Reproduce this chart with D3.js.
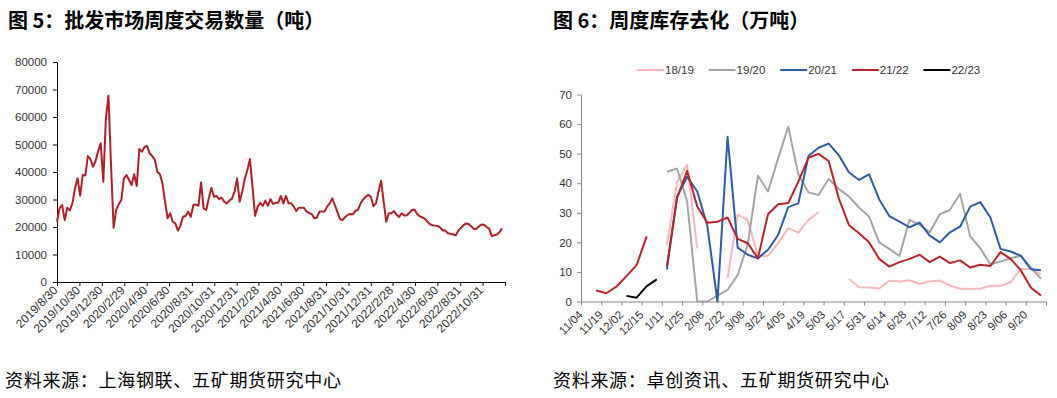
<!DOCTYPE html>
<html>
<head>
<meta charset="utf-8">
<script src="https://cdn.jsdelivr.net/npm/d3@7/dist/d3.min.js"></script>
<style>
    html, body {
        margin: 0;
        background: #fff;
    }
    svg text {
        font-family: "Liberation Sans", Arial, sans-serif;
        fill: #333;
    }
    .title {
        font-family: "Noto Sans CJK SC", sans-serif !important;
        font-weight: bold;
        font-size: 20px;
        fill: #000 !important;
    }
    .source {
        font-family: "Noto Sans CJK SC", sans-serif !important;
        font-size: 18px;
        letter-spacing: 0.7px;
        fill: #000 !important;
    }
</style>
</head>
<body>
<script>
    // weekly wholesale volume (t), first week 2019/8/30
    const volStart = new Date(2019, 7, 30);
    const volume = [
        21900, 26800, 28000, 22500, 27000, 26100, 28600, 34100, 37700, 31400,
        38900, 38700, 45800, 44700, 41900, 44000, 47600, 50400, 36500, 59500,
        67700, 42700, 19700, 26200, 28300, 29800, 37700, 38900, 37100, 35300,
        39200, 34900, 48400, 47400, 49100, 49500, 46800, 45800, 44500, 40100,
        39200, 35800, 29100, 23200, 25000, 21900, 21300, 18700, 20500, 23700,
        24000, 25600, 23700, 28000, 28200, 27700, 36200, 26800, 26200, 30400,
        34300, 31000, 31300, 30100, 30700, 29200, 28600, 29600, 30300, 32800,
        37700, 29200, 32800, 37500, 40700, 44700, 34600, 24000, 27400, 28800,
        27700, 29600, 27700, 30100, 28400, 28800, 28800, 31300, 28600, 31300,
        28600, 28600, 27500, 25800, 27000, 27000, 27000, 25600, 25100, 24700,
        23200, 23400, 25600, 25600, 25600, 27400, 28600, 30400, 28000, 25500,
        22900, 22500, 23600, 24400, 24700, 24600, 25900, 26200, 28600, 30000,
        31000, 31700, 31000, 27600, 28600, 33000, 36800, 29000, 21900, 25000,
        25000, 25800, 24400, 23700, 25000, 24200, 24300, 25200, 26200, 26400,
        24700, 23900, 23500, 23000, 21900, 21000, 20600, 20500, 20400, 19800,
        18700, 18700, 17700, 17500, 17300, 17000, 18700, 19700, 20700, 21300,
        21100, 20300, 19300, 19400, 20200, 20900, 20800, 20000, 19400, 16700,
        17000, 17300, 18100, 19500
    ];
    const volTickLabels = [
        '2019/8/30', '2019/10/30', '2019/12/30', '2020/2/29', '2020/4/30',
        '2020/6/30', '2020/8/31', '2020/10/31', '2020/12/31', '2021/2/28',
        '2021/4/30', '2021/6/30', '2021/8/31', '2021/10/31', '2021/12/31',
        '2022/2/28', '2022/4/30', '2022/6/30', '2022/8/31', '2022/10/31'
    ];
    const volAxisEnd = '2022/12/31';

    // weekly stock change (10k t), 46 weeks per season
    const stockLabels = [
        '11/04', '11/19', '12/02', '12/15', '1/11', '1/25', '2/08', '2/22',
        '3/08', '3/22', '4/05', '4/19', '5/03', '5/17', '5/31', '6/14',
        '6/28', '7/12', '7/26', '8/09', '8/23', '9/06', '9/20'
    ];
    const seasonNames = ['18/19', '19/20', '20/21', '21/22', '22/23'];
    const seasonColors = ['#f6b9bd', '#a5a5a5', '#2f5ca8', '#c0222c', '#000000'];
    const s1819 = [
        null, null, null, null, null, null, null, null, 19.2, 40.5,
        46.2, 18.0, null, null, 7.9, 29.3, 27.6, 15.2, 15.5, 19.7,
        24.8, 23.3, 27.6, 30.2, null, null, 7.7, 4.8, 4.7, 4.4,
        7.0, 6.8, 7.2, 5.9, 6.8, 7.1, 5.4, 4.3, 4.3, 4.3,
        5.3, 5.3, 6.5, 11.0, 11.0, 9.2
    ];
    const s1920 = [
        null, null, null, null, null, null, null, null, 43.9, 45.0,
        33.8, 0, 0, 2.0, 3.9, 9.0, 19.5, 42.6, 37.2, 48.4,
        59.1, 43.0, 36.9, 36.0, 41.4, 38.1, 35.5, 31.8, 28.7, 20.0,
        17.8, 15.4, 27.6, 25.9, 23.4, 29.5, 31.0, 36.4, 22.0, 18.0,
        12.6, 13.5, 14.6, 15.5, 11.5, 7.7
    ];
    const s2021 = [
        null, null, null, null, null, null, null, null, 10.9, 35.5,
        42.2, 37.2, 25.5, 0, 55.7, 18.2, 15.8, 14.6, 17.5, 22.5,
        31.9, 33.2, 49.2, 52.0, 53.4, 49.5, 43.7, 41.1, 43.0, 34.5,
        28.9, 27.0, 25.1, 26.7, 22.3, 20.0, 23.4, 25.3, 32.1, 33.6,
        28.4, 17.8, 16.9, 15.5, 10.9, 10.6
    ];
    const s2122 = [
        null, 3.7, 2.8, 5.0, 8.6, 12.3, 22.0, null, 12.0, 34.9,
        44.2, 32.1, 26.6, 27.0, 28.4, 21.2, 19.7, 14.6, 29.5, 32.9,
        33.3, 40.5, 48.6, 49.9, 47.5, 34.9, 25.9, 23.1, 20.0, 14.4,
        11.8, 13.3, 14.4, 15.8, 13.3, 15.2, 13.0, 13.9, 11.5, 12.4,
        12.0, 16.7, 14.4, 10.6, 4.7, 2.0
    ];
    const s2223 = [
        null, null, null, null, 1.9, 1.3, 5.2, 7.5
    ];
    const seasons = [s1819, s1920, s2021, s2122, s2223];

    const parseDate = d3.timeParse('%Y/%m/%d');

    const svg = d3.select('body').append('svg')
        .attr('width', 1057)
        .attr('height', 398);

    // ---------- left chart ----------
    svg.append('text').attr('class', 'title')
        .attr('x', 8).attr('y', 28)
        .text('图 5：批发市场周度交易数量（吨）');

    const xVol = d3.scaleTime()
        .domain([volStart, parseDate(volAxisEnd)])
        .range([57, 505]);
    const yVol = d3.scaleLinear()
        .domain([0, 80000])
        .range([282, 62]);

    const volTicks = volTickLabels.concat([volAxisEnd]).map(parseDate);

    const gxVol = svg.append('g')
        .attr('transform', 'translate(0,282)')
        .call(d3.axisBottom(xVol)
            .tickValues(volTicks)
            .tickFormat((d, i) => volTickLabels[i] || '')
            .tickSize(4)
            .tickSizeOuter(0));
    gxVol.selectAll('text')
        .style('font-size', '12px')
        .attr('text-anchor', 'end')
        .attr('dy', null)
        .attr('y', 0)
        .attr('transform', 'translate(1,9) rotate(-45)');

    svg.append('g')
        .attr('transform', 'translate(57,0)')
        .call(d3.axisLeft(yVol)
            .tickValues(d3.range(0, 80001, 10000))
            .tickFormat(d3.format('d'))
            .tickSize(4)
            .tickSizeOuter(0))
        .selectAll('text')
        .style('font-size', '11.5px')
        .attr('x', -10);

    svg.selectAll('.domain, .tick line').attr('stroke', '#000');

    const volLine = d3.line()
        .x((d, i) => xVol(d3.timeDay.offset(volStart, i * 7)))
        .y(d => yVol(d));

    svg.append('path')
        .datum(volume)
        .attr('fill', 'none')
        .attr('stroke', '#b01f2a')
        .attr('stroke-width', 2)
        .attr('stroke-linejoin', 'round')
        .attr('d', volLine);

    svg.append('text').attr('class', 'source')
        .attr('x', 5).attr('y', 387)
        .text('资料来源：上海钢联、五矿期货研究中心');

    // ---------- right chart ----------
    svg.append('text').attr('class', 'title')
        .attr('x', 553).attr('y', 28)
        .text('图 6：周度库存去化（万吨）');

    const nWeeks = s1819.length;
    const xs = d3.scaleLinear().domain([0, nWeeks]).range([581, 1046]);
    const ys = d3.scaleLinear().domain([0, 70]).range([301.5, 94.5]);

    const gxs = svg.append('g')
        .attr('class', 'raxis')
        .attr('transform', 'translate(0,301.5)')
        .call(d3.axisBottom(xs)
            .tickValues(d3.range(0, nWeeks + 1, 2))
            .tickFormat(d => stockLabels[d / 2] || '')
            .tickSize(4)
            .tickSizeOuter(0));
    gxs.selectAll('text')
        .style('font-size', '11.5px')
        .attr('text-anchor', 'end')
        .attr('dy', null)
        .attr('y', 0)
        .attr('transform', 'translate(2,14) rotate(-45)');

    svg.append('g')
        .attr('class', 'raxis')
        .attr('transform', 'translate(581,0)')
        .call(d3.axisLeft(ys)
            .tickValues(d3.range(0, 71, 10))
            .tickSize(4)
            .tickSizeOuter(0))
        .selectAll('text')
        .style('font-size', '11.5px')
        .attr('x', -9);

    svg.selectAll('.raxis .domain, .raxis .tick line').attr('stroke', '#888');

    const stockLine = d3.line()
        .defined(d => d != null)
        .x((d, i) => xs(i + 0.5))
        .y(d => ys(d));

    seasons.forEach((s, k) => {
        svg.append('path')
            .datum(s)
            .attr('fill', 'none')
            .attr('stroke', seasonColors[k])
            .attr('stroke-width', 2)
            .attr('stroke-linejoin', 'round')
            .attr('d', stockLine);
    });

    // legend
    const legend = svg.append('g').attr('transform', 'translate(637,70)');
    seasonNames.forEach((name, k) => {
        const g = legend.append('g').attr('transform', `translate(${k * 71.6},0)`);
        g.append('line')
            .attr('x1', 0).attr('x2', 27)
            .attr('stroke', seasonColors[k])
            .attr('stroke-width', 2);
        g.append('text')
            .attr('x', 28).attr('y', 4)
            .style('font-size', '11.5px')
            .text(name);
    });

    svg.append('text').attr('class', 'source')
        .attr('x', 553).attr('y', 387)
        .text('资料来源：卓创资讯、五矿期货研究中心');
</script>
</body>
</html>
